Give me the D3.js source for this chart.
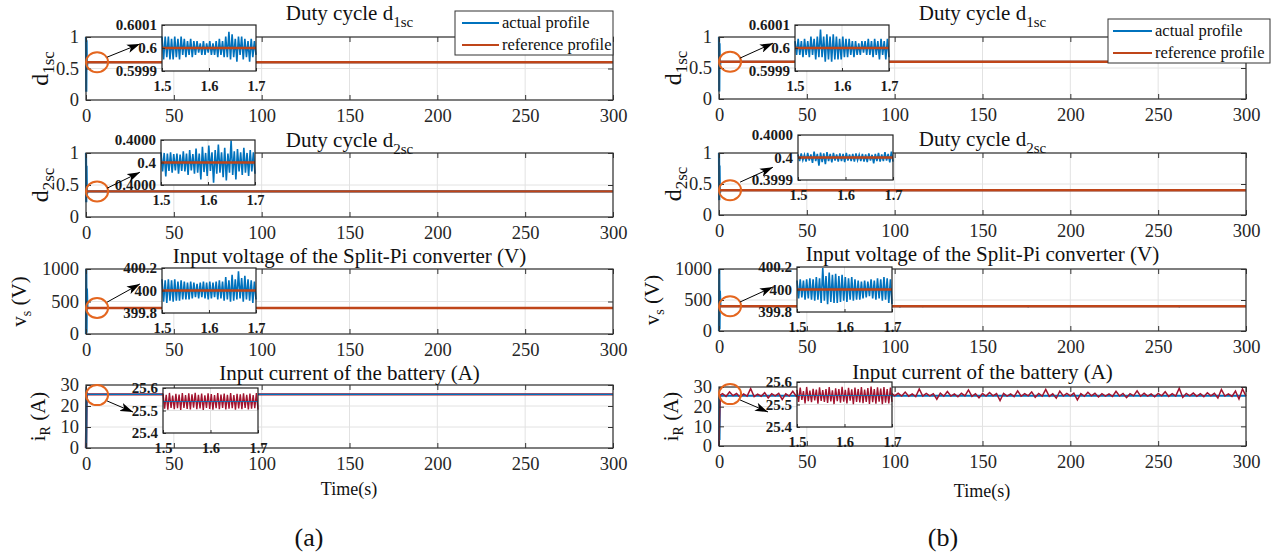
<!DOCTYPE html>
<html><head><meta charset="utf-8">
<script src="https://cdn.jsdelivr.net/npm/d3@7"></script>
<style>body{margin:0;background:#fff;} svg{display:block;}</style>
</head><body><svg id="c" width="1283" height="553"></svg>
<script>
// ================= DATA =================
const timeTicks = [0, 50, 100, 150, 200, 250, 300];
const insetTimeTicks = [1.5, 1.6, 1.7];
const rowTitles = [["Duty cycle d", "1sc"], ["Duty cycle d", "2sc"], ["Input voltage of the Split-Pi converter (V)", ""], ["Input current of the battery (A)", ""]];
const rowYLabels = [["d", "1sc", ""], ["d", "2sc", ""], ["v", "s", " (V)"], ["i", "R", " (A)"]];
const rowYDomains = [[0, 1], [0, 1], [0, 1000], [0, 30]];
const rowYTicks = [[0, 0.5, 1], [0, 0.5, 1], [0, 500, 1000], [0, 10, 20, 30]];
const referenceValues = [0.6, 0.4, 400, 25.54];
const legendLabels = ["actual profile", "reference profile"];
const panelTags = ["(a)", "(b)"];

// start-up transient of the measured signals (times in s)
const transientTimes = [0, 0.15, 0.3, 0.5, 0.8];
const actualTransientA = [[1, 0.13, 0.95, 0.5, 0.6], [1, 0.23, 0.8, 0.35, 0.4], [0, 1000, 20, 700, 400], [0, 29, 0, 26, 25.54]];
const actualTransientB = [[1, 0.12, 0.9, 0.5, 0.6], [1, 0.24, 0.8, 0.35, 0.4], [0, 1000, 30, 650, 400], [0, 26, 3, 25, 25.54]];
const currentTransientA = [0, 10, 20, 26, 25.54];
const currentTransientB = [0, 6, 12, 20, 26];

// small voltage spikes visible in main plots (time s, deviation V)
const voltageSpikeTimesA = [104, 118, 131, 175, 212, 249, 281];
const voltageSpikeDevA = [-12, -8, 10, -15, -9, -11, 8];
const voltageSpikeTimesB = [103, 116, 133, 152, 176, 213, 262, 290];
const voltageSpikeDevB = [-25, -15, 18, -12, -20, -12, -22, 14];

// battery current, panel (b): value every 2 s from t = 2 s, deviation (A) from 26 A
const currentNoiseBase = 26;
const currentNoiseStep = 2;
const currentNoiseDevB = [
 0.6,-0.8,1.5,-0.4,0.7,-1.2,0.5,-0.6,3.2,-0.9,
 0.4,-0.7,1.1,-1.6,0.6,-0.5,0.8,-2.4,0.5,-0.6,
 1.8,-0.7,0.6,-0.9,0.5,-0.4,2.6,-0.8,0.7,-1.3,
 0.5,-0.6,0.9,-0.5,1.6,-2.8,0.6,-0.7,0.8,-0.5,
 0.7,-1.1,2.2,-0.6,0.5,-0.8,0.6,-1.9,1.0,-0.5,
 0.8,-0.6,1.4,-0.7,0.5,-0.9,3.0,-0.6,0.7,-0.5,
 0.6,-2.2,0.9,-0.7,1.7,-0.6,0.5,-1.0,0.8,-0.5,
 2.5,-0.8,0.6,-1.5,0.7,-0.6,1.2,-0.5,0.6,-2.9,
 0.8,-0.6,0.5,-0.9,2.0,-0.7,0.6,-0.5,1.5,-1.2,
 0.7,-0.6,2.8,-0.8,0.5,-1.7,1.9,-0.6,0.7,-0.5,
 0.9,-2.6,0.6,-0.7,1.3,-0.5,0.8,-1.1,0.6,-0.6,
 0.5,-0.8,1.8,-0.6,0.7,-1.4,0.6,-0.5,2.1,-0.7,
 0.8,-0.6,0.5,-1.0,0.7,-0.5,1.6,-0.8,0.6,-0.6,
 3.4,-1.3,0.7,-0.5,0.9,-0.7,0.6,-0.9,1.1,-0.5,
 0.8,-1.6,2.7,-0.6,0.5,-0.8,1.9,-2.1,3.0,-0.7];

// zoom insets (t = 1.5 ... 1.7 s)
const insetDomainsA = [[0.5999, 0.6001], [0.39996, 0.40004], [399.8, 400.2], [25.4, 25.6]];
const insetDomainsB = [[0.5999, 0.6001], [0.39995, 0.40005], [399.8, 400.2], [25.4, 25.6]];
const insetTickValsA = [[0.5999, 0.6, 0.6001], [0.39996, 0.4, 0.40004], [399.8, 400, 400.2], [25.4, 25.5, 25.6]];
const insetTickValsB = [[0.5999, 0.6, 0.6001], [0.39995, 0.4, 0.40005], [399.8, 400, 400.2], [25.4, 25.5, 25.6]];
const insetTickLabelsA = [["0.5999", "0.6", "0.6001"], ["0.4000", "0.4", "0.4000"], ["399.8", "400", "400.2"], ["25.4", "25.5", "25.6"]];
const insetTickLabelsB = [["0.5999", "0.6", "0.6001"], ["0.3999", "0.4", "0.4000"], ["399.8", "400", "400.2"], ["25.4", "25.5", "25.6"]];
const insetCenters = [0.6, 0.4, 400, 25.54];
const insetUnits = [1e-5, 1e-5, 0.01, 0.01];
const insetDevA = [
 [5,-5,5,-4,5,-5,4,-5,5,-4,4,-5,5,-3,4,-4,3,-3,4,-4,3,-3,3,-2,2,-3,3,-3,2,-2,3,-3,2,-3,3,-4,4,-3,3,-4,5,-4,7,-5,6,-4,4,-6,5,-3,5,-5,4,-4,3,-6,4,-4,3,-3],
 [1.8,-1.6,1.7,-2.5,1.6,-1.5,1.8,-1.8,1.5,-1.4,1.6,-2.0,1.4,-1.5,2.0,-1.6,1.6,-2.2,2.2,-1.4,1.5,-2.0,2.5,-1.8,1.6,-3.0,2.8,-1.7,1.7,-2.4,3.0,-1.5,1.8,-3.6,2.2,-2.0,3.2,-1.8,1.8,-2.6,2.6,-3.2,1.6,-1.8,3.9,-2.2,2.0,-3.0,2.4,-1.6,1.8,-2.2,2.6,-1.8,1.7,-2.4,2.2,-1.6,1.8,-2.0],
 [10,-10,9,-11,10,-9,9,-10,10,-9,8,-9,9,-8,8,-8,7,-8,8,-7,7,-6,6,-7,7,-6,8,-7,7,-8,8,-7,7,-6,8,-8,9,-7,8,-9,12,-8,9,-10,14,-9,10,-8,17,-7,11,-10,13,-8,10,-9,9,-11,8,-8],
 [3.5,-3.2,3.0,-3.6,3.8,-2.8,2.6,-3.4,3.4,-3.0,3.1,-3.8,3.7,-2.9,2.8,-3.3,3.6,-3.5,3.2,-2.7,3.9,-3.4,3.0,-3.1,3.5,-3.7,2.7,-2.9,3.6,-3.3,3.3,-3.6,2.9,-3.0,3.8,-3.4,3.1,-2.8,3.5,-3.5,3.0,-3.2,3.7,-3.0,2.8,-3.6,3.4,-3.1,3.2,-3.4,3.6,-2.9,3.0,-3.5,3.5,-3.2,2.9,-3.0,3.7,-3.6]
];
const insetDevB = [
 [3,-3,4,-3,3,-4,4,-3,3,-4,5,-3,4,-5,5,-4,8,-4,5,-6,6,-5,5,-6,6,-5,5,-5,4,-5,5,-4,4,-4,4,-3,3,-4,3,-3,2,-3,3,-2,3,-3,4,-3,3,-4,4,-3,3,-5,4,-3,3,-5,4,-4],
 [0.7,-0.8,0.9,-0.6,0.6,-0.9,1.0,-0.7,0.7,-1.2,1.3,-0.8,0.8,-1.8,1.1,-1.0,0.9,-1.5,1.2,-0.8,0.8,-1.1,1.0,-0.7,0.7,-0.9,0.9,-0.8,0.8,-1.0,1.0,-0.7,0.7,-0.8,0.8,-0.9,0.9,-0.6,0.6,-0.8,0.8,-0.9,0.7,-1.0,0.9,-0.7,0.6,-1.3,0.8,-0.8,1.0,-0.9,0.7,-0.8,1.2,-0.7,0.8,-1.1,1.3,-0.9],
 [8,-8,9,-7,8,-9,9,-8,10,-9,9,-10,11,-9,10,-12,19,-10,12,-13,15,-11,13,-12,14,-12,12,-11,13,-10,11,-11,10,-9,11,-10,9,-9,8,-9,7,-8,8,-7,7,-6,9,-8,8,-9,10,-8,9,-10,11,-9,10,-12,9,-13],
 [2.5,-2.8,3.5,-2.0,2.0,-3.5,3.8,-2.5,2.2,-3.0,3.0,-2.2,2.6,-3.6,3.6,-2.4,2.4,-2.9,2.9,-3.3,3.7,-2.6,2.3,-3.8,3.2,-2.5,2.8,-3.2,3.9,-2.7,2.5,-3.5,3.4,-2.3,2.7,-3.9,3.5,-2.8,2.9,-3.1,3.8,-3.4,2.6,-2.9,3.3,-3.7,4.0,-3.0,2.8,-3.6,3.6,-2.7,3.1,-3.9,3.7,-3.2,2.9,-3.5,3.5,-2.8]
];

// annotation anchors in data units: circle value; arrow [t0, v0, t1, v1]
const circleTime = 6.3;
const circleValuesA = [0.6, 0.4, 400, 25.2];
const circleValuesB = [0.6, 0.4, 400, 26.4];
const arrowsA = [[12, 0.68, 30.7, 0.89], [12, 0.45, 30.7, 0.70], [12, 490, 30.7, 770], [12, 22.4, 26.8, 17.1]];
const arrowsB = [[12, 0.66, 30.7, 0.90], [12, 0.53, 30.7, 0.77], [12, 468, 30.7, 710], [12, 23.4, 27.9, 17.3]];

// ================= LAYOUT / STYLE =================
const SERIF = '"Liberation Serif","Times New Roman",serif';
const BLUE = '#0072BD', RUST = '#BF4519', CRIMSON = '#A2142F', ORANGE = '#E4661F', AX = '#333333', GRID = '#e2e2e2', TXT = '#262626';
const panels = [
 {x0: 86, x1: 613, rows: [[37,100],[153,217],[269,334],[385,448]],
  insets: [[162,25,94,46],[161,140,94,45],[162,268,94,45],[163,388,95,45]],
  titleY: [20,147,263,380],
  legend: [455,11,158,44], legendLine: [462,499], legendText: 502, legendRows: [23,45],
  time: [349,495], tag: [309,546],
  actual: actualTransientA, current: currentTransientA, vT: voltageSpikeTimesA, vD: voltageSpikeDevA,
  inDom: insetDomainsA, inTick: insetTickValsA, inLab: insetTickLabelsA, inDev: insetDevA,
  circ: circleValuesA, arrows: arrowsA, noisy: false},
 {x0: 719, x1: 1246, rows: [[37,99],[153,215],[269,331],[387,446]],
  insets: [[795,25,94,46],[798,135,95,45],[797,267,95,45],[797,382,95,45]],
  titleY: [20,146,261,379],
  legend: [1108,19,162,44], legendLine: [1113,1152], legendText: 1155, legendRows: [31,53],
  time: [982,497], tag: [943,546],
  actual: actualTransientB, current: currentTransientB, vT: voltageSpikeTimesB, vD: voltageSpikeDevB,
  inDom: insetDomainsB, inTick: insetTickValsB, inLab: insetTickLabelsB, inDev: insetDevB,
  circ: circleValuesB, arrows: arrowsB, noisy: true}
];

const svg = d3.select('#c');
const defs = svg.append('defs');
defs.append('marker').attr('id','ah').attr('viewBox','0 0 12 8').attr('refX',12).attr('refY',4)
  .attr('markerWidth',13).attr('markerHeight',9).attr('markerUnits','userSpaceOnUse').attr('orient','auto')
  .append('path').attr('d','M0,0 L12,4 L0,8 L3,4 Z').attr('fill','#000');

function styleAxis(sel, size, weight) {
  sel.attr('font-family', SERIF).attr('font-size', size);
  sel.select('.domain').remove();
  sel.selectAll('.tick line').attr('stroke', AX).attr('stroke-width', 1);
  sel.selectAll('.tick text').attr('fill', weight ? '#1a1a1a' : TXT).attr('font-weight', weight || 'normal');
}

panels.forEach((P, pi) => {
  const x = d3.scaleLinear().domain([0, 300]).range([P.x0, P.x1]);
  P.rows.forEach(([top, bot], ri) => {
    const y = d3.scaleLinear().domain(rowYDomains[ri]).range([bot, top]);
    const g = svg.append('g');
    const ref = referenceValues[ri];
    // grid
    g.selectAll(null).data(timeTicks).join('line')
      .attr('x1', d => x(d)).attr('x2', d => x(d)).attr('y1', top).attr('y2', bot).attr('stroke', GRID);
    g.selectAll(null).data(rowYTicks[ri]).join('line')
      .attr('x1', P.x0).attr('x2', P.x1).attr('y1', d => y(d)).attr('y2', d => y(d)).attr('stroke', GRID);
    const line = d3.line().x(d => x(d[0])).y(d => y(d[1]));
    const actualPts = transientTimes.map((t, i) => [t, P.actual[ri][i]]).concat([[300, ref]]);
    if (ri < 3) {
      g.append('path').datum(actualPts).attr('d', line).attr('fill','none').attr('stroke', BLUE).attr('stroke-width', 2.2);
      if (ri === 2) {
        g.selectAll(null).data(P.vT).join('line')
          .attr('x1', d => x(d)).attr('x2', d => x(d)).attr('y1', y(ref)).attr('y2', (d, i) => y(ref + P.vD[i]))
          .attr('stroke', BLUE).attr('stroke-width', 1.2);
      }
      g.append('path').datum([[0, ref], [300, ref]]).attr('d', line).attr('fill','none').attr('stroke', RUST).attr('stroke-width', 2.4);
    } else {
      const curPts = transientTimes.map((t, i) => [t, P.current[i]]);
      if (P.noisy) {
        currentNoiseDevB.forEach((d, i) => curPts.push([currentNoiseStep * (i + 1), currentNoiseBase + d]));
        g.append('path').datum(actualPts).attr('d', line).attr('fill','none').attr('stroke', BLUE).attr('stroke-width', 2);
        g.append('path').datum(curPts).attr('d', line).attr('fill','none').attr('stroke', CRIMSON).attr('stroke-width', 1.5);
      } else {
        curPts.push([300, ref]);
        g.append('path').datum(curPts).attr('d', line).attr('fill','none').attr('stroke', CRIMSON).attr('stroke-width', 2.4);
        g.append('path').datum(actualPts).attr('d', line).attr('fill','none').attr('stroke', BLUE).attr('stroke-width', 1.4);
      }
    }
    // axes
    const ax = g.append('g').attr('transform', `translate(0,${bot})`)
      .call(d3.axisBottom(x).tickValues(timeTicks).tickSizeInner(-5).tickSizeOuter(0).tickPadding(9));
    styleAxis(ax, 18.5);
    const ay = g.append('g').attr('transform', `translate(${P.x0},0)`)
      .call(d3.axisLeft(y).tickValues(rowYTicks[ri]).tickSizeInner(-5).tickSizeOuter(0).tickPadding(7).tickFormat(d3.format('~g')));
    styleAxis(ay, 18.5);
    const at = g.append('g').attr('transform', `translate(0,${top})`)
      .call(d3.axisTop(x).tickValues(timeTicks).tickSizeInner(-5).tickSizeOuter(0).tickFormat(''));
    styleAxis(at, 10);
    const ar = g.append('g').attr('transform', `translate(${P.x1},0)`)
      .call(d3.axisRight(y).tickValues(rowYTicks[ri]).tickSizeInner(-5).tickSizeOuter(0).tickFormat(''));
    styleAxis(ar, 10);
    g.append('rect').attr('x', P.x0).attr('y', top).attr('width', P.x1 - P.x0).attr('height', bot - top)
      .attr('fill', 'none').attr('stroke', AX).attr('stroke-width', 1.2);

    // title
    const tt = g.append('text').attr('x', (P.x0 + P.x1) / 2).attr('y', P.titleY[ri]).attr('text-anchor', 'middle')
      .attr('font-family', SERIF).attr('font-size', 21).attr('fill', '#111');
    tt.append('tspan').text(rowTitles[ri][0]);
    if (rowTitles[ri][1]) tt.append('tspan').attr('dy', 7).attr('font-size', 15).text(rowTitles[ri][1]);

    // y label
    const big = ri < 2;
    const lx = P.x0 - (ri < 2 ? 38 : ri === 2 ? 60 : 41);
    const yl = g.append('text').attr('transform', `translate(${lx},${(top + bot) / 2}) rotate(-90)`)
      .attr('text-anchor', 'middle').attr('font-family', SERIF).attr('font-size', big ? 24 : 21).attr('fill', '#111');
    yl.append('tspan').text(rowYLabels[ri][0]);
    yl.append('tspan').attr('dy', big ? 6 : 5).attr('font-size', big ? 17 : 14).text(rowYLabels[ri][1]);
    if (rowYLabels[ri][2]) yl.append('tspan').attr('dy', -5).text(rowYLabels[ri][2]);

    // ---- inset ----
    const [rx, ry, rw, rh] = P.insets[ri];
    const xs = d3.scaleLinear().domain([1.5, 1.7]).range([rx, rx + rw]);
    const ys = d3.scaleLinear().domain(P.inDom[ri]).range([ry + rh, ry]);
    const ig = svg.append('g');
    ig.append('rect').attr('x', rx).attr('y', ry).attr('width', rw).attr('height', rh).attr('fill', '#fff');
    ig.append('line').attr('x1', xs(1.6)).attr('x2', xs(1.6)).attr('y1', ry).attr('y2', ry + rh).attr('stroke', GRID);
    ig.append('line').attr('x1', rx).attr('x2', rx + rw).attr('y1', ys(P.inTick[ri][1])).attr('y2', ys(P.inTick[ri][1])).attr('stroke', GRID);
    const dev = P.inDev[ri];
    const n = dev.length;
    const inPts = dev.map((d, i) => [1.5 + 0.2 * i / (n - 1), insetCenters[ri] + d * insetUnits[ri]]);
    const il = d3.line().x(d => xs(d[0])).y(d => ys(d[1]));
    if (ri < 3) {
      ig.append('path').datum(inPts).attr('d', il).attr('fill','none').attr('stroke', BLUE).attr('stroke-width', 1.6);
      ig.append('path').datum([[1.5, ref], [1.7, ref]]).attr('d', il).attr('fill','none').attr('stroke', RUST).attr('stroke-width', 2.4);
    } else {
      ig.append('path').datum(inPts).attr('d', il).attr('fill','none').attr('stroke', CRIMSON).attr('stroke-width', 1.4);
      ig.append('path').datum([[1.5, insetCenters[ri]], [1.7, insetCenters[ri]]]).attr('d', il).attr('fill','none').attr('stroke', BLUE).attr('stroke-width', 1.2).attr('opacity', 0.85);
    }
    const ibx = ig.append('g').attr('transform', `translate(0,${ry + rh})`)
      .call(d3.axisBottom(xs).tickValues(insetTimeTicks).tickSizeInner(-3).tickSizeOuter(0).tickPadding(10).tickFormat(d3.format('.1f')));
    styleAxis(ibx, 14.5, 'bold');
    const iby = ig.append('g').attr('transform', `translate(${rx},0)`)
      .call(d3.axisLeft(ys).tickValues(P.inTick[ri]).tickSizeInner(-3).tickSizeOuter(0).tickPadding(5).tickFormat((d, i) => P.inLab[ri][i]));
    styleAxis(iby, 15, 'bold');
    ig.append('rect').attr('x', rx).attr('y', ry).attr('width', rw).attr('height', rh)
      .attr('fill', 'none').attr('stroke', '#222').attr('stroke-width', 1.2);

    // ---- annotation ----
    svg.append('ellipse').attr('cx', x(circleTime)).attr('cy', y(P.circ[ri])).attr('rx', 11).attr('ry', 10)
      .attr('fill', 'none').attr('stroke', ORANGE).attr('stroke-width', 2);
    const a = P.arrows[ri];
    svg.append('line').attr('x1', x(a[0])).attr('y1', y(a[1])).attr('x2', x(a[2])).attr('y2', y(a[3]))
      .attr('stroke', '#000').attr('stroke-width', 1).attr('marker-end', 'url(#ah)');
  });

  // legend
  const [lx, ly, lw, lh] = P.legend;
  const lg = svg.append('g');
  lg.append('rect').attr('x', lx).attr('y', ly).attr('width', lw).attr('height', lh).attr('fill', '#fff').attr('stroke', AX).attr('stroke-width', 1);
  [BLUE, RUST].forEach((c, i) => {
    lg.append('line').attr('x1', P.legendLine[0]).attr('x2', P.legendLine[1]).attr('y1', P.legendRows[i]).attr('y2', P.legendRows[i])
      .attr('stroke', c).attr('stroke-width', 2.2);
    lg.append('text').attr('x', P.legendText).attr('y', P.legendRows[i] + 5).attr('font-family', SERIF).attr('font-size', 16.5)
      .attr('fill', '#111').text(legendLabels[i]);
  });

  svg.append('text').attr('x', P.time[0]).attr('y', P.time[1]).attr('text-anchor', 'middle').attr('font-family', SERIF)
    .attr('font-size', 18).attr('fill', '#111').text('Time(s)');
  svg.append('text').attr('x', P.tag[0]).attr('y', P.tag[1]).attr('text-anchor', 'middle').attr('font-family', SERIF)
    .attr('font-size', 26).attr('fill', '#111').text(panelTags[pi]);
});
</script></body></html>
